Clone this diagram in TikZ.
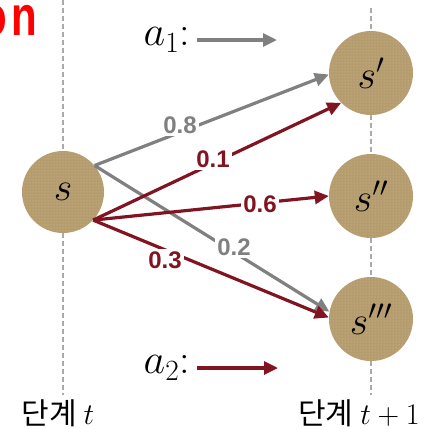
\RequirePackage{fix-cm}
\documentclass[tikz,border=0pt]{standalone}
\usepackage{fontspec}
\newfontfamily\kr{Noto Sans CJK KR}
\newfontfamily\arial{Liberation Sans}
\usetikzlibrary{arrows.meta,patterns}
\definecolor{grayA}{RGB}{128,128,128}
\definecolor{myred}{RGB}{128,20,32}
\definecolor{tanA}{RGB}{181,156,110}
\definecolor{dotc}{RGB}{212,194,156}
\definecolor{dashc}{RGB}{170,170,170}
\definecolor{titlered}{RGB}{255,0,0}
\tikzset{
  state/.style={circle, minimum size=84pt, inner sep=0pt, preaction={fill=tanA}, pattern=dots, pattern color=dotc, font=\fontsize{40}{40}\selectfont},
  garrow/.style={draw=grayA, line width=3.2pt, -{Triangle[length=14pt,width=13pt]}},
  rarrow/.style={draw=myred, line width=3.2pt, -{Triangle[length=14pt,width=13pt]}},
  glab/.style={fill=white, inner sep=2.5pt, text=grayA, font=\arial\bfseries\fontsize{24}{24}\selectfont},
  rlab/.style={fill=white, inner sep=2.5pt, text=myred, font=\arial\bfseries\fontsize{24}{24}\selectfont},
  guide/.style={draw=dashc, line width=1.3pt, dash pattern=on 5pt off 3pt},
  act/.style={font=\fontsize{42}{42}\selectfont, inner sep=0pt},
  stage/.style={font=\kr\fontsize{30}{30}\selectfont, inner sep=0pt},
}
\begin{document}
\begin{tikzpicture}[x=1pt,y=-1pt]
\useasboundingbox (0,0) rectangle (426,429);
% title fragment
\node[anchor=base east, inner sep=0pt, text=titlered, font=\arial\bfseries\fontsize{56}{56}\selectfont, xscale=0.75] (title) at (37,35) {o\kern5pt n};
% states
\node[state, minimum size=82pt] (s) at (63,192) {$s$};
\node[state] (s1) at (371,73) {$s'$};
\node[state] (s2) at (371,196) {$s''$};
\node[state] (s3) at (371,319) {$s'''$};
% guides
\coordinate (lt) at (63,0);
\coordinate (lb) at (63,395);
\coordinate (rt) at (371,8);
\coordinate (rb) at (371,395);
\draw[guide] (lt) -- (s.north);
\draw[guide] (s.south) -- (lb);
\draw[guide] (rt) -- (s1.north);
\draw[guide] (s1.south) -- (s2.north);
\draw[guide] (s2.south) -- (s3.north);
\draw[guide] (s3.south) -- (rb);
% transitions
\draw[garrow] (s.40) -- (s1.182);
\draw[garrow] (s.40) -- (s3.170);
\draw[rarrow] (s.-43) -- (s1.225);
\draw[rarrow] (s.-43) -- (s2.180);
\draw[rarrow] (s.-43) -- (s3.178);
% probabilities
\node[glab] (p08) at (180,125) {0.8};
\node[rlab] (p01) at (213,159) {0.1};
\node[rlab] (p06) at (260,204) {0.6};
\node[glab] (p02) at (234,247) {0.2};
\node[rlab] (p03) at (165,260) {0.3};
% legend
\node[act, anchor=east] (a1) at (190,40) {$a_1$:};
\coordinate (a1e) at (277,40);
\draw[garrow] ([xshift=7pt]a1.east) -- (a1e);
\node[act, anchor=east] (a2) at (190,368) {$a_2$:};
\coordinate (a2e) at (278,368);
\draw[rarrow] ([xshift=7pt]a2.east) -- (a2e);
% stages
\node[stage, anchor=base] (st) at (58,424) {단계 $t$};
\node[stage, anchor=base] (st1) at (359,424) {단계 $t+1$};
\end{tikzpicture}
\end{document}
